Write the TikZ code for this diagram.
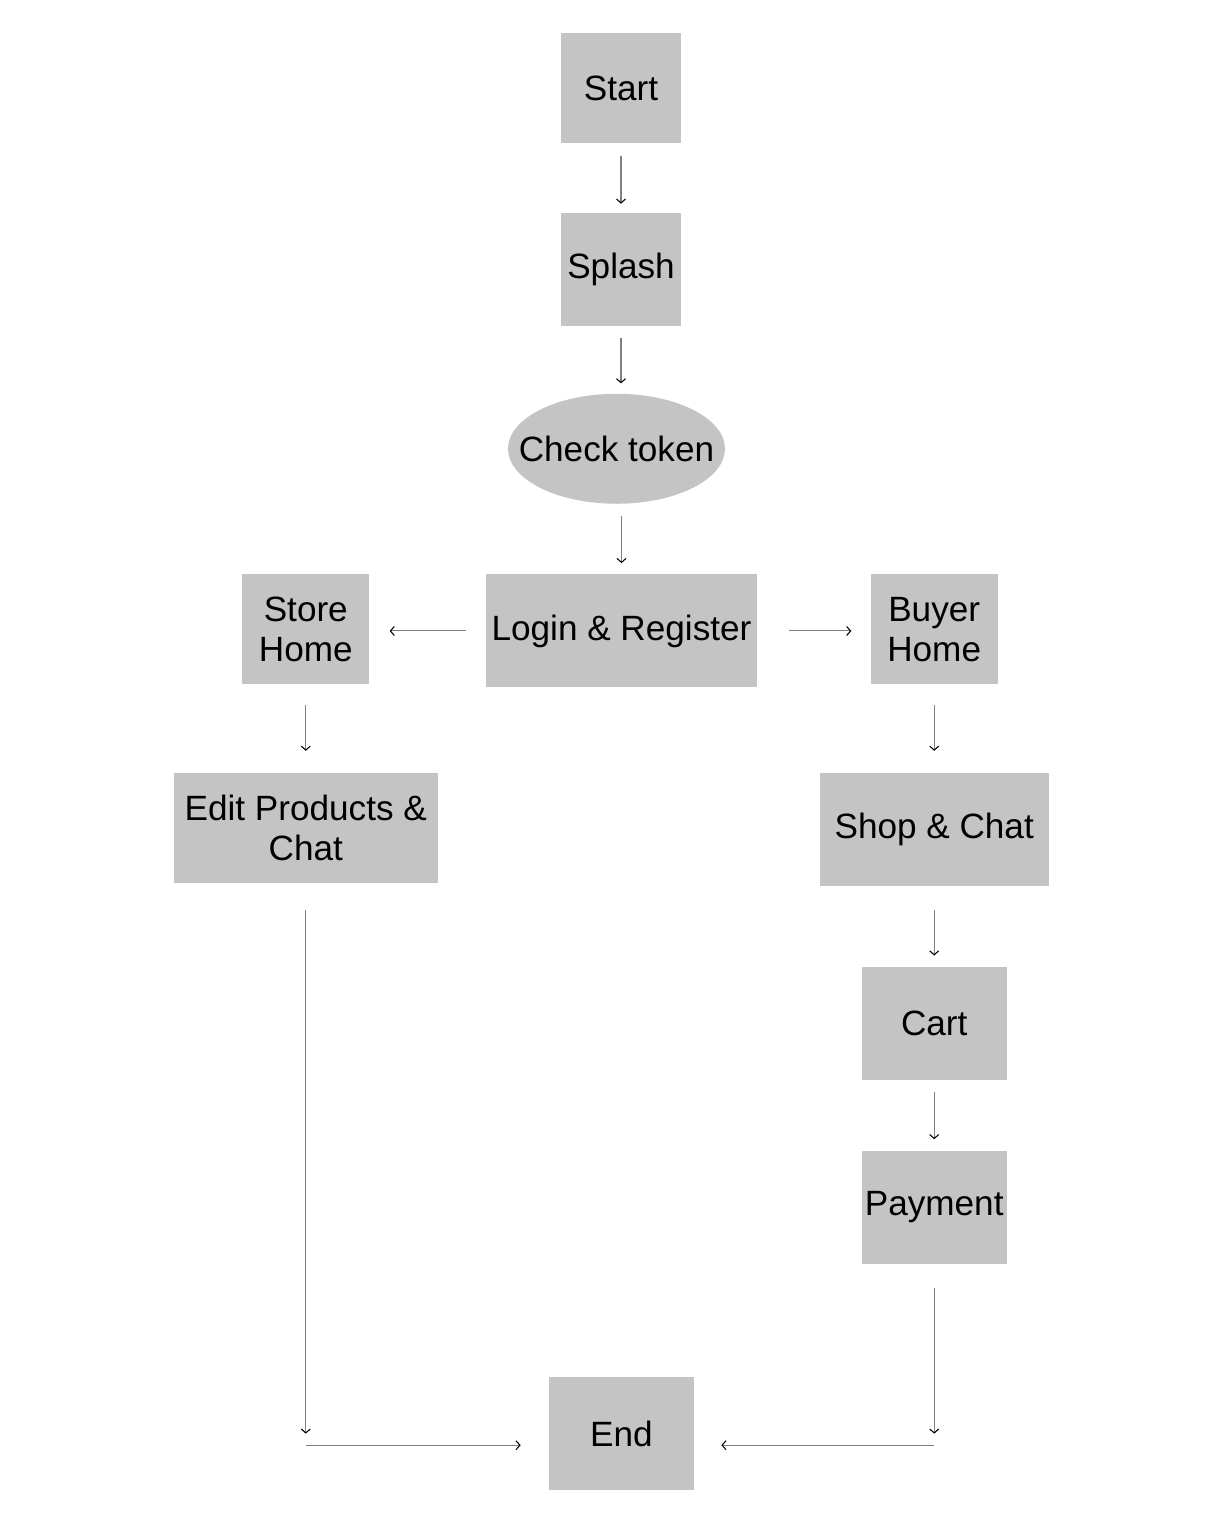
\documentclass[tikz,border=0pt]{standalone}
\usepackage{fontspec}
\setmainfont{Liberation Sans}
\usepackage{xcolor}
\usepackage{tikz}
\usetikzlibrary{calc,arrows.meta,positioning,shapes.geometric}
\definecolor{boxgray}{HTML}{C4C4C4}

\begin{document}
\begin{tikzpicture}[
        box/.style={fill=boxgray, inner sep=0pt, minimum width=2.4cm, minimum height=2.26cm, align=center, font=\fontsize{20}{23}\selectfont},
        oval/.style={box, ellipse, inner xsep=-0.6cm, minimum width=4.34cm, minimum height=2.2cm},
        flow/.style={draw=gray, line width=0.6pt, -{Straight Barb[length=0.8mm, width=1.8mm, black]}},
    ]
        \node[box, minimum height=2.2cm] (start) {Start};
        \node[box, below=1.38cm of start] (splash) {Splash};
        \node[oval, below=1.34cm of splash, xshift=-0.09cm] (check) {Check token};
        \node[box, minimum width=5.42cm, below=1.4cm of check, xshift=0.1cm] (login) {Login \& Register};
        \node[box, minimum width=2.54cm, minimum height=2.2cm, left=2.32cm of login.north west, anchor=north east] (store) {Store\\Home};
        \node[box, minimum width=2.54cm, minimum height=2.2cm, right=2.26cm of login.north east, anchor=north west] (buyer) {Buyer\\Home};
        \node[box, minimum width=5.28cm, minimum height=2.2cm, below=1.76cm of store] (edit) {Edit Products \&\\Chat};
        \node[box, minimum width=4.58cm, below=1.76cm of buyer] (shop) {Shop \& Chat};
        \node[box, minimum width=2.9cm, below=1.6cm of shop] (cart) {Cart};
        \node[box, minimum width=2.9cm, below=1.4cm of cart] (payment) {Payment};
        \node[box, minimum width=2.9cm, below=13.78cm of login] (end) {End};

        % corners of the two long connectors
        \coordinate (dropL) at (edit |- end);
        \coordinate (turnL) at ($(dropL)+(0,-0.23)$);
        \coordinate (dropR) at (payment |- end);
        \coordinate (turnR) at ($(dropR)+(0,-0.23)$);

        \draw[flow, shorten <=0.24cm, shorten >=0.18cm] (start) -- (splash);
        \draw[flow, shorten <=0.24cm, shorten >=0.2cm] (splash) -- (splash |- check.north);
        \draw[flow, shorten <=0.24cm, shorten >=0.22cm] (login |- check.south) -- (login);
        \draw[flow, shorten <=0.4cm, shorten >=0.4cm] (login) -- (login -| store.east);
        \draw[flow, shorten <=0.64cm, shorten >=0.38cm] (login) -- (login -| buyer.west);
        \draw[flow, shorten <=0.4cm, shorten >=0.44cm] (store) -- (edit);
        \draw[flow, shorten <=0.4cm, shorten >=0.44cm] (buyer) -- (shop);
        \draw[flow, shorten <=0.46cm, shorten >=0.22cm] (shop) -- (cart);
        \draw[flow, shorten <=0.24cm, shorten >=0.22cm] (cart) -- (payment);
        \draw[flow, shorten <=0.52cm] (edit) -- (dropL);
        \draw[flow, shorten >=0.56cm] (turnL) -- (turnL -| end.west);
        \draw[flow, shorten <=0.48cm] (payment) -- (dropR);
        \draw[flow, shorten >=0.54cm] (turnR) -- (turnR -| end.east);

        \useasboundingbox ($(start.north)+(-12.42,0.66)$) rectangle ++(24.26,-30.62);
    \end{tikzpicture}
\end{document}
